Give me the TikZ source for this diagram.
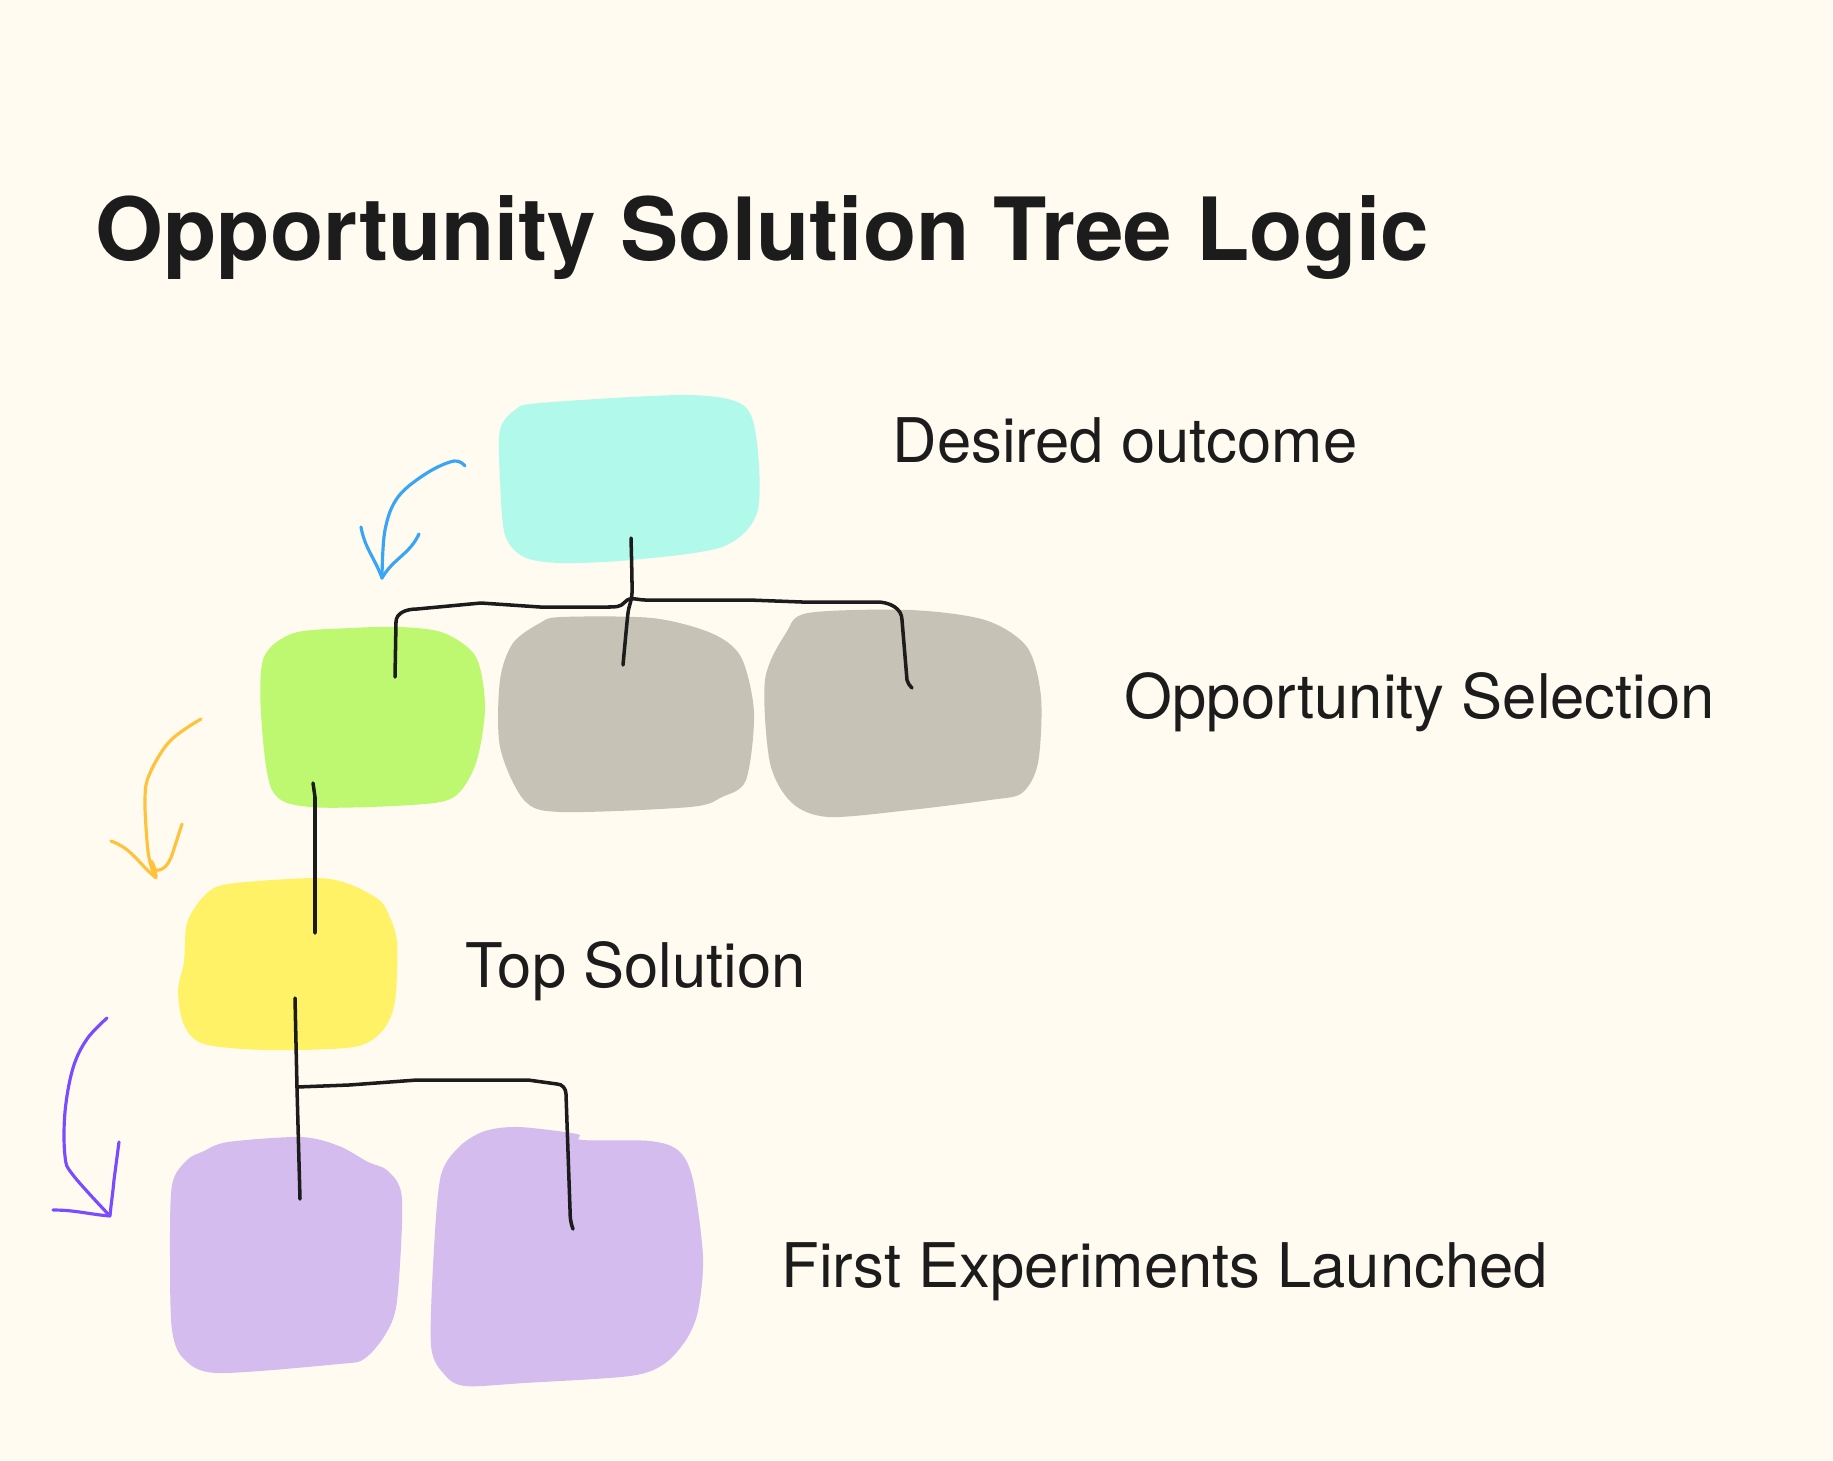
\documentclass[tikz,border=0pt]{standalone}
\usepackage{fontspec}
\setmainfont{TeX Gyre Heros}
\definecolor{paper}{HTML}{FFFBF0}
\definecolor{ink}{HTML}{1C1C1C}
\definecolor{goalfill}{HTML}{B1F9EA}
\definecolor{pickfill}{HTML}{BEF870}
\definecolor{restfill}{HTML}{C6C2B6}
\definecolor{solfill}{HTML}{FFF266}
\definecolor{testfill}{HTML}{D4BDEE}
\definecolor{bluepen}{HTML}{3AA5F5}
\definecolor{orangepen}{HTML}{FFC23C}
\definecolor{violetpen}{HTML}{7A4CFF}

\begin{document}
\begin{tikzpicture}[x=0.01cm, y=-0.01cm,
	blob/.style={fill=#1, draw=none},
	stem/.style={draw=ink, line width=1pt, line cap=round, line join=round},
	hint/.style={draw=#1, line width=0.9pt, line cap=round, line join=round},
	heading/.style={anchor=base west, inner sep=0pt, text=ink, font=\fontsize{24.8}{29}\selectfont\bfseries},
	level/.style={anchor=base west, inner sep=0pt, text=ink, font=\fontsize{17.5}{21}\selectfont}]
	\fill[paper] (0, 0) rectangle (1833, 1460);
	\useasboundingbox (0, 0) rectangle (1833, 1460);

	% blobs
	\fill[blob=goalfill] plot[smooth cycle, tension=0.5] coordinates {(500,430) (515,410) (540,403) (685,395) (743,405) (757,443) (757,513) (722,547) (631,560) (561,563) (524,557) (505,535) (500,480)};
	\fill[blob=pickfill] plot[smooth cycle, tension=0.5] coordinates {(294,633) (352,628) (401,627) (444,633) (476,657) (485,707) (476,763) (454,797) (411,805) (310,807) (272,790) (261,713) (264,657)};
	\fill[blob=restfill] plot[smooth cycle, tension=0.5] coordinates {(561,617) (652,618) (711,633) (741,657) (754,713) (746,780) (722,797) (690,807) (561,812) (524,800) (500,747) (500,680) (513,643) (540,623)};
	\fill[blob=restfill] plot[smooth cycle, tension=0.5] coordinates {(808,613) (910,610) (985,620) (1027,647) (1041,697) (1038,763) (1022,793) (990,800) (910,810) (829,817) (792,803) (770,763) (765,680) (786,633)};
	\fill[blob=solfill] plot[smooth cycle, tension=0.5] coordinates {(228,884) (315,878) (349,884) (378,899) (388,913) (397,942) (395,1001) (383,1030) (354,1047) (267,1050) (204,1044) (184,1025) (178,991) (184,962) (187,923) (204,896)};
	\fill[blob=testfill] plot[smooth cycle, tension=0.5] coordinates {(228,1142) (301,1137) (339,1146) (368,1162) (388,1171) (402,1199) (397,1301) (385,1335) (364,1359) (339,1364) (218,1373) (184,1359) (172,1330) (170,1257) (172,1185) (187,1160) (204,1151)};
	\fill[blob=testfill] plot[smooth cycle, tension=0.5] coordinates {(485,1131) (519,1127) (577,1134) (582,1140) (650,1141) (679,1151) (693,1180) (703,1257) (698,1311) (686,1340) (664,1364) (630,1376) (524,1383) (465,1386) (444,1374) (431,1345) (434,1248) (441,1175) (460,1146)};

	% labels
	\node[heading] (title) at (95, 260) {Opportunity Solution Tree Logic};
	\node[level] (goal) at (892, 462) {Desired outcome};
	\node[level] (pick) at (1124, 718) {Opportunity Selection};
	\node[level] (sol) at (465, 987) {Top Solution};
	\node[level] (tests) at (781, 1287) {First Experiments Launched};

	% tree lines
	\coordinate (goal-out) at (631, 538);
	\coordinate (pick-in) at (395, 677);
	\coordinate (rest-in) at (623, 665);
	\coordinate (other-in) at (912, 688);
	\coordinate (pick-out) at (313, 783);
	\coordinate (sol-in) at (315, 933);
	\coordinate (sol-out) at (295, 998);
	\coordinate (test-in) at (300, 1199);
	\coordinate (other-test-in) at (573, 1229);
	\draw[stem] plot[smooth, tension=0.4] coordinates {(goal-out) (632,593) (628,613) (rest-in)};
	\draw[stem] (pick-in) -- (396,622) to[out=90, in=180] (417,609) -- (481,603) -- (540,607) -- (608,607)
		to[out=0, in=-130] (625,602) to[out=50, in=180] (645,600) -- (749,600) -- (802,602) -- (877,602)
		to[out=0, in=90] (902,620) -- (907,680) to[out=-90, in=120] (other-in);
	\draw[stem] (pick-out) -- (315,797) -- (sol-in);
	\draw[stem] (sol-out) -- (297,1088) -- (test-in);
	\draw[stem] (297,1087) -- (349,1085) -- (417,1080) -- (528,1080) -- (557,1084)
		to[out=0, in=90] (566,1094) -- (570,1209) to[out=-90, in=110] (other-test-in);

	% hand arrows
	\draw[hint=bluepen] plot[smooth, tension=0.6] coordinates {(465,466) (454,461) (427,473) (398,497) (385,530) (382,578)};
	\draw[hint=bluepen] (361,527) to[out=-80, in=110] (382,578) to[out=60, in=-115] (419,534);
	\draw[hint=orangepen] plot[smooth, tension=0.6] coordinates {(201,719) (170,741) (150,773) (145,797) (147,841) (150,862) (155,877)};
	\draw[hint=orangepen] (111,841) to[out=-20, in=140] (155,877) to[out=-60, in=60] (150,862);
	\draw[hint=orangepen] (182,824) -- (172,855) to[out=-110, in=-10] (155,870);
	\draw[hint=violetpen] plot[smooth, tension=0.6] coordinates {(107,1018) (87,1039) (73,1068) (65,1112) (65,1156) (73,1175) (110,1216)};
	\draw[hint=violetpen] (53,1210) to[out=0, in=175] (110,1216) to[out=85, in=-95] (114,1180) -- (119,1142);
\end{tikzpicture}
\end{document}
